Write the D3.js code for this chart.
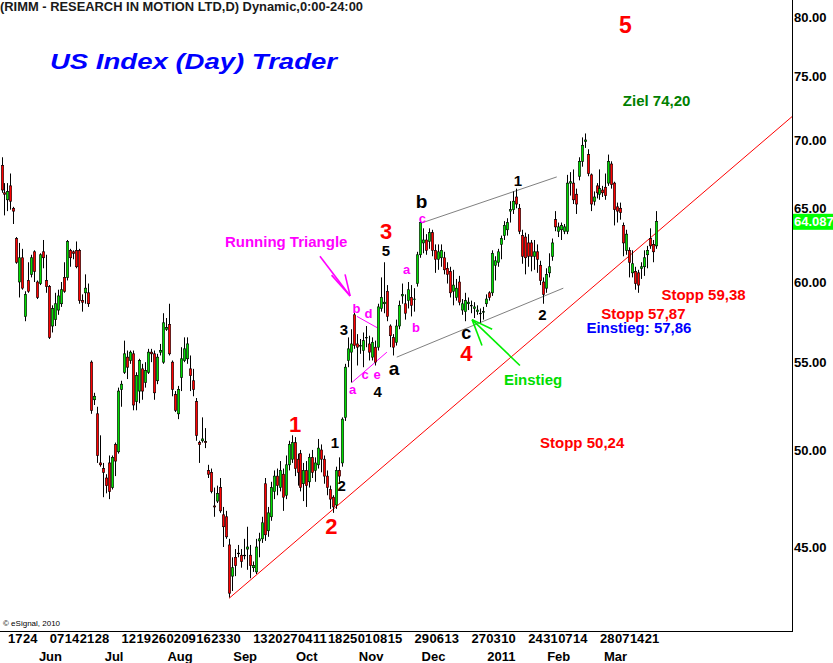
<!DOCTYPE html>
<html><head><meta charset="utf-8">
<script src="https://cdn.jsdelivr.net/npm/d3@7"></script>
<style>html,body{margin:0;padding:0;background:#fff;} svg{display:block;}</style>
</head><body>
<div id="chart"></div>
<script>
// ---- DATA (daily candles, RIMM, May 13 2010 .. Mar 25 2011) ----
const opens = [
68.1,66.1,65.6,66.6,65.0,62.9,60.0,61.6,57.8,60.1,
60.5,62.0,60.0,59.9,62.0,60.1,59.7,57.2,57.6,58.2,
58.6,60.3,60.3,62.1,62.0,62.1,62.1,58.8,59.3,59.3,
55.0,52.8,52.0,49.3,49.0,48.5,49.3,48.0,50.3,49.9,
53.4,54.4,55.3,55.1,55.5,52.7,53.3,54.6,53.8,54.4,
55.6,55.5,53.9,55.6,55.0,57.0,57.3,55.0,53.1,52.0,
54.1,55.1,55.2,54.6,53.9,52.7,50.4,50.5,50.45,48.9,
48.8,47.05,47.3,48.0,46.6,46.5,45.1,43.6,44.5,44.7,
44.6,44.6,44.9,44.6,44.0,43.8,45.3,45.4,48.2,45.8,
46.5,47.8,48.6,48.0,48.7,47.6,49.2,49.5,50.4,49.5,
49.8,48.2,48.9,48.3,49.6,48.9,49.2,50.0,49.5,48.6,
47.9,47.5,47.1,48.9,49.3,51.8,55.1,55.6,57.9,56.1,
56.0,55.7,56.5,56.1,55.3,55.9,55.9,58.3,58.6,59.4,
57.2,56.5,56.2,57.2,59.1,58.6,58.8,59.0,58.9,59.9,
61.8,62.6,62.8,62.7,63.3,62.1,61.5,61.6,61.6,60.9,
60.7,59.4,59.0,60.0,58.2,58.1,58.6,58.5,58.3,58.1,
58.0,58.1,58.6,59.3,59.3,61.1,61.3,62.5,63.1,63.5,
64.8,64.9,65.8,65.0,63.1,63.0,62.6,62.6,61.7,62.0,
61.1,60.0,59.6,60.6,61.7,64.2,63.4,63.5,63.4,63.4,
66.8,66.8,66.0,67.3,68.4,69.9,68.9,67.4,65.5,66.6,
66.0,66.3,66.5,66.8,68.2,66.8,65.1,65.0,63.8,62.1,
62.1,60.6,60.7,60.6,60.9,61.0,61.8,62.9,62.5,62.4];
const highs = [
68.7,66.8,66.8,67.5,65.1,63.0,62.6,62.2,59.4,61.3,
61.8,62.1,60.1,61.9,62.8,61.8,59.8,58.5,59.3,59.5,
60.0,61.3,62.8,62.2,62.1,62.7,62.2,59.2,60.5,59.9,
55.1,53.2,52.4,50.8,49.3,48.7,49.7,49.7,50.4,53.5,
53.9,56.3,55.7,55.7,55.7,54.4,55.2,54.9,55.0,55.8,
55.8,55.7,55.5,56.1,58.0,57.7,58.6,55.1,53.3,53.6,
55.9,56.5,56.5,55.4,54.6,52.9,50.5,51.8,51.2,49.2,
49.0,48.0,48.1,48.5,47.0,46.8,45.4,44.5,44.9,45.1,
44.9,45.4,46.0,45.1,44.3,45.4,45.7,46.5,48.5,47.0,
48.3,48.9,49.0,49.4,49.0,49.7,50.5,50.8,50.7,49.8,
50.0,49.3,49.4,49.8,50.0,49.6,50.6,50.3,49.7,48.9,
48.1,47.6,49.1,49.6,51.8,54.9,56.5,57.0,58.4,56.7,
56.4,56.8,57.2,56.6,56.5,56.3,58.6,60.3,61.3,59.8,
57.3,56.7,57.6,58.8,59.9,59.2,60.0,59.8,59.6,62.0,
64.3,63.6,63.2,63.6,63.5,62.5,62.5,62.5,62.0,61.3,
61.0,60.8,60.2,60.4,58.9,59.3,59.0,58.8,58.7,58.5,
58.3,58.4,59.2,59.4,62.1,61.7,62.2,63.1,64.1,64.3,
65.5,66.2,66.4,65.3,63.5,63.3,63.2,62.8,62.8,62.5,
61.4,60.3,60.9,61.9,62.9,64.8,64.0,64.0,63.9,67.4,
67.6,67.8,66.4,68.7,70.2,70.5,69.3,67.5,66.2,66.8,
67.8,66.6,67.5,68.9,68.4,66.9,65.4,65.4,64.0,63.5,
62.3,62.1,61.0,60.8,61.3,62.1,62.4,63.6,62.8,64.8];
const lows = [
66.1,64.5,64.8,64.9,63.9,61.2,59.0,59.5,57.5,59.3,
60.3,60.0,58.9,59.8,60.9,59.3,56.4,56.8,57.2,57.9,
58.4,59.3,60.1,61.0,61.5,60.9,58.6,58.1,58.6,58.4,
52.0,52.5,49.3,49.1,47.5,47.7,47.4,47.9,48.6,49.8,
52.4,54.3,54.0,54.9,52.2,52.2,52.6,52.8,53.5,54.3,
55.0,52.8,53.7,55.4,54.9,56.9,55.4,53.0,52.1,51.7,
53.3,55.0,54.9,53.3,53.0,50.5,49.3,50.4,50.1,48.5,
47.7,46.5,47.2,46.7,45.0,45.4,42.6,42.9,43.6,44.5,
44.0,44.4,43.9,43.5,43.8,43.7,44.5,45.2,45.3,45.5,
46.3,47.4,47.6,47.8,46.8,47.4,48.9,49.3,48.6,48.1,
47.8,47.3,47.0,48.0,48.5,48.3,49.0,48.8,48.2,47.6,
46.9,46.7,46.9,48.3,49.1,51.6,54.7,53.8,55.8,54.8,
55.5,54.7,55.9,55.1,55.1,54.8,55.7,58.1,58.0,57.5,
55.9,55.4,56.0,57.0,58.6,57.6,58.3,57.8,58.1,59.7,
61.6,61.9,61.8,62.2,61.7,60.6,60.8,61.0,60.5,59.9,
59.0,58.5,58.8,58.5,57.9,57.5,58.2,58.0,57.7,57.9,
57.4,57.6,58.4,58.8,59.1,60.1,61.0,61.5,62.8,63.1,
64.0,64.6,65.0,63.2,61.2,60.5,61.0,60.7,60.8,60.6,
59.8,58.6,59.3,60.3,61.4,63.4,63.0,62.8,63.2,63.2,
65.9,65.3,64.6,67.0,68.0,69.4,67.3,64.8,65.2,65.7,
65.6,65.8,65.6,66.6,66.4,63.8,64.0,64.2,61.7,61.8,
60.3,60.3,59.5,59.3,60.2,60.4,60.9,62.2,61.3,62.2];
const closes = [
66.3,66.0,66.2,65.5,64.8,61.3,61.6,59.6,59.2,59.4,
61.6,60.7,59.0,61.8,61.6,59.7,56.5,58.3,58.6,59.1,
59.5,59.4,62.7,61.6,61.9,61.0,58.8,58.7,59.6,58.6,
52.2,53.0,49.7,49.2,48.8,48.1,47.8,49.6,49.4,53.3,
53.7,55.5,54.7,55.6,52.5,54.2,55.1,53.3,54.5,55.6,
55.5,53.2,55.3,55.7,57.4,57.1,55.5,53.4,52.2,53.4,
55.2,55.8,56.1,54.2,53.4,50.8,50.3,50.6,50.4,48.7,
47.8,47.0,47.7,46.8,46.0,45.5,42.8,44.0,44.1,44.7,
44.3,44.6,45.0,44.1,44.1,45.0,45.4,46.2,45.6,46.7,
48.0,48.6,48.1,48.9,47.5,49.2,50.3,50.4,49.0,48.8,
48.0,48.9,48.1,49.6,48.8,49.3,50.1,49.5,48.6,48.0,
47.4,47.0,48.9,48.6,51.7,54.7,55.8,56.1,56.0,55.9,
56.0,56.3,56.5,55.6,56.2,55.0,58.4,59.0,58.7,57.8,
56.6,55.9,57.2,58.5,59.2,58.0,59.5,58.5,58.9,61.8,
64.0,62.8,62.1,63.3,62.1,61.5,62.0,62.1,60.8,60.5,
59.3,59.8,59.6,58.7,58.6,58.8,58.7,58.5,58.4,58.2,
58.0,58.1,58.9,59.0,61.9,61.4,62.0,62.9,63.8,64.0,
64.9,65.5,65.3,63.4,61.7,61.6,61.7,61.7,62.0,61.5,
60.1,59.2,60.5,61.0,62.6,63.7,63.7,63.8,63.7,66.8,
66.9,65.6,65.3,68.4,69.6,70.0,67.5,65.3,65.8,66.1,
66.4,66.1,65.9,68.4,66.7,64.9,64.8,64.7,62.6,63.2,
61.3,61.2,59.9,59.8,61.0,61.6,62.1,62.4,62.0,64.087];

const yTicks = [45, 50, 55, 60, 65, 70, 75, 80];
const dayTickIdx  = [2,7,16,21,26,31,40,45,50,55,60,65,70,75,84,89,94,99,104,109,114,119,124,129,138,143,148,157,162,167,176,181,186,191,200,205,210,215];
const dayTickText = ["17","24","07","14","21","28","12","19","26","02","09","16","23","30","13","20","27","04","11","18","25","01","08","15","29","06","13","27","03","10","24","31","07","14","28","07","14","21"];
const monthTickIdx  = [12,34,55,77,98,119,140,162,182,201];
const monthTickText = ["Jun","Jul","Aug","Sep","Oct","Nov","Dec","2011","Feb","Mar"];
const lastValue = 64.087;

// annotation lines, in (candle index, price)
const trendLine   = [[76.1, 42.56], [264.4, 71.8]];
const chanUpper   = [[140.5, 63.97], [185.7, 67.25]];
const chanLower   = [[132.2, 55.3], [187.9, 59.6]];
const triUpper    = [[118.9, 57.8], [125.6, 57.1]];
const triLower    = [[117.2, 53.8], [128.9, 55.6]];
const magArrow    = [[[106.5, 61.7], [116.6, 59.1]], [[110.4, 60.45], [116.6, 59.1]], [[114.9, 60.5], [116.6, 59.1]]];
const greenArrow  = [[[173.4, 54.8], [157.4, 57.6]], [[164.1, 57.0], [157.4, 57.6]], [[160.7, 56.0], [157.4, 57.6]]];

// annotation texts, in (candle index, price)
const notes = [
  {t:"5", i:208.7, p:79.3, c:"#ff0000", s:23},
  {t:"Ziel 74,20", i:219.1, p:73.1, c:"#008000", s:15},
  {t:"Running Triangle", i:95.2, p:62.7, c:"#ff00ff", s:15},
  {t:"3", i:128.6, p:63.4, c:"#ff0000", s:22},
  {t:"5", i:128.6, p:62.1, c:"#000000", s:15},
  {t:"b", i:140.5, p:65.45, c:"#000000", s:19},
  {t:"c", i:140.8, p:64.3, c:"#ff00ff", s:13},
  {t:"a", i:135.5, p:60.8, c:"#ff00ff", s:13},
  {t:"b", i:138.6, p:57.1, c:"#ff00ff", s:13},
  {t:"3", i:114.5, p:57.0, c:"#000000", s:15},
  {t:"b", i:118.7, p:58.3, c:"#ff00ff", s:13},
  {t:"d", i:122.7, p:58.0, c:"#ff00ff", s:13},
  {t:"a", i:117.4, p:53.4, c:"#ff00ff", s:13},
  {t:"c", i:121.6, p:54.25, c:"#ff00ff", s:13},
  {t:"e", i:125.6, p:54.25, c:"#ff00ff", s:13},
  {t:"4", i:125.8, p:53.3, c:"#000000", s:15},
  {t:"a", i:131.3, p:54.6, c:"#000000", s:19},
  {t:"c", i:155.4, p:56.75, c:"#000000", s:18},
  {t:"4", i:155.5, p:55.5, c:"#ff0000", s:22},
  {t:"1", i:172.7, p:67.0, c:"#000000", s:15},
  {t:"2", i:180.9, p:57.9, c:"#000000", s:15},
  {t:"Einstieg", i:177.8, p:54.0, c:"#00dd00", s:15},
  {t:"Stopp 59,38", i:234.8, p:59.2, c:"#ff0000", s:15},
  {t:"Stopp 57,87", i:214.7, p:58.0, c:"#ff0000", s:15},
  {t:"Einstieg: 57,86", i:213.2, p:57.1, c:"#0000ff", s:15},
  {t:"Stopp 50,24", i:194.2, p:50.4, c:"#ff0000", s:15},
  {t:"1", i:98.2, p:51.4, c:"#ff0000", s:22},
  {t:"1", i:111.5, p:50.4, c:"#000000", s:15},
  {t:"2", i:113.8, p:48.1, c:"#000000", s:15},
  {t:"2", i:110.3, p:46.0, c:"#ff0000", s:22}
];

// ---- CHART ----
const W = 833, H = 663;
const plotRight = 792, plotBottom = 631;
const FONT = "'Liberation Sans', Arial, Helvetica, sans-serif";

const svg = d3.select("#chart").append("svg").attr("width", W).attr("height", H)
  .style("background", "#fff").attr("font-family", FONT);

const x = d3.scaleLinear().domain([0, opens.length - 1]).range([1.5, 656.3]);
const y = d3.scaleLog().domain([45, 80]).range([547, 17]);

const candles = opens.map((o, i) => ({i, o, h: highs[i], l: lows[i], c: closes[i]}));

svg.append("defs").append("clipPath").attr("id", "plot")
  .append("rect").attr("x", 0).attr("y", 0).attr("width", plotRight).attr("height", plotBottom);

const plot = svg.append("g").attr("clip-path", "url(#plot)");

// trend & channel lines (behind candles)
const line = d3.line().x(d => x(d[0])).y(d => y(d[1]));
plot.append("path").attr("d", line(trendLine)).attr("stroke", "#ff0000").attr("stroke-width", 1).attr("fill", "none");
plot.append("path").attr("d", line(chanUpper)).attr("stroke", "#808080").attr("stroke-width", 1).attr("fill", "none");
plot.append("path").attr("d", line(chanLower)).attr("stroke", "#808080").attr("stroke-width", 1).attr("fill", "none");
plot.append("path").attr("d", line(triUpper)).attr("stroke", "#ff00ff").attr("stroke-width", 1).attr("fill", "none");
plot.append("path").attr("d", line(triLower)).attr("stroke", "#ff00ff").attr("stroke-width", 1).attr("fill", "none");

// candles
const cg = plot.append("g");
const cx = d => Math.round(x(d.i)) + 0.5;
cg.selectAll("line.wick").data(candles).join("line")
  .attr("class", "wick")
  .attr("x1", cx).attr("x2", cx)
  .attr("y1", d => y(d.h)).attr("y2", d => y(d.l))
  .attr("stroke", "#000").attr("stroke-width", 1);
cg.selectAll("rect.body").data(candles).join("rect")
  .attr("class", "body")
  .attr("x", d => cx(d) - 1.2)
  .attr("width", 2.4)
  .attr("y", d => y(Math.max(d.o, d.c)))
  .attr("height", d => Math.max(0.6, Math.abs(y(d.o) - y(d.c))))
  .attr("fill", d => d.c >= d.o ? "#00dd00" : "#ff0000")
  .attr("stroke", "#000").attr("stroke-width", 0.6);

// arrows
magArrow.forEach(seg => plot.append("path").attr("d", line(seg)).attr("stroke", "#ff00ff").attr("stroke-width", 1.6).attr("fill", "none"));
greenArrow.forEach(seg => plot.append("path").attr("d", line(seg)).attr("stroke", "#00ee00").attr("stroke-width", 1.6).attr("fill", "none"));

// annotation texts
svg.append("g").selectAll("text").data(notes).join("text")
  .attr("x", d => x(d.i)).attr("y", d => y(d.p))
  .attr("text-anchor", "middle").attr("dominant-baseline", "central")
  .attr("font-weight", "bold").attr("font-size", d => d.s + "px")
  .attr("fill", d => d.c).text(d => d.t);

// frame
svg.append("line").attr("x1", plotRight + 0.5).attr("x2", plotRight + 0.5).attr("y1", 0).attr("y2", plotBottom + 1)
  .attr("stroke", "#000").attr("stroke-width", 1);
svg.append("line").attr("x1", 0).attr("x2", plotRight + 1).attr("y1", plotBottom + 0.5).attr("y2", plotBottom + 0.5)
  .attr("stroke", "#000").attr("stroke-width", 1);

// right price axis
const yAxis = d3.axisRight(y).tickValues(yTicks).tickFormat(d3.format(".2f")).tickSize(0).tickPadding(1);
const ya = svg.append("g").attr("transform", `translate(${plotRight + 1},0)`).call(yAxis);
ya.select(".domain").remove();
ya.selectAll("text").attr("font-family", FONT).attr("font-size", "13px").attr("font-weight", "bold").attr("fill", "#000");

// last value box
svg.append("rect").attr("x", plotRight + 1).attr("y", y(lastValue) - 7.5).attr("width", W - plotRight - 1).attr("height", 16).attr("fill", "#00ff00");
svg.append("text").attr("x", plotRight + 2).attr("y", y(lastValue) + 0.5).attr("dominant-baseline", "central")
  .attr("font-size", "13px").attr("font-weight", "bold").attr("fill", "#fff").text(lastValue.toFixed(3));

// bottom date axis
svg.append("g").selectAll("text").data(dayTickIdx).join("text")
  .attr("x", d => x(d) + 0.5).attr("y", 643)
  .attr("font-size", "13px").attr("font-weight", "bold").attr("fill", "#000")
  .text((d, k) => dayTickText[k]);
svg.append("g").selectAll("text").data(monthTickIdx).join("text")
  .attr("x", d => x(d) + 1.5).attr("y", 661)
  .attr("font-size", "13px").attr("font-weight", "bold").attr("fill", "#000")
  .text((d, k) => monthTickText[k]);

// headers
svg.append("text").attr("x", 0).attr("y", 11).attr("font-size", "12px").attr("font-weight", "bold").attr("fill", "#1a1a1a")
  .attr("textLength", 363).attr("lengthAdjust", "spacingAndGlyphs")
  .text("(RIMM - RESEARCH IN MOTION LTD,D) Dynamic,0:00-24:00");
svg.append("text").attr("x", 50).attr("y", 69).attr("font-size", "22px").attr("font-weight", "bold").attr("font-style", "italic")
  .attr("fill", "#0000ff").attr("textLength", 287).attr("lengthAdjust", "spacingAndGlyphs")
  .text("US Index (Day) Trader");
svg.append("text").attr("x", 3).attr("y", 626).attr("font-size", "8px").attr("fill", "#000").text("© eSignal, 2010");
</script>
</body></html>
